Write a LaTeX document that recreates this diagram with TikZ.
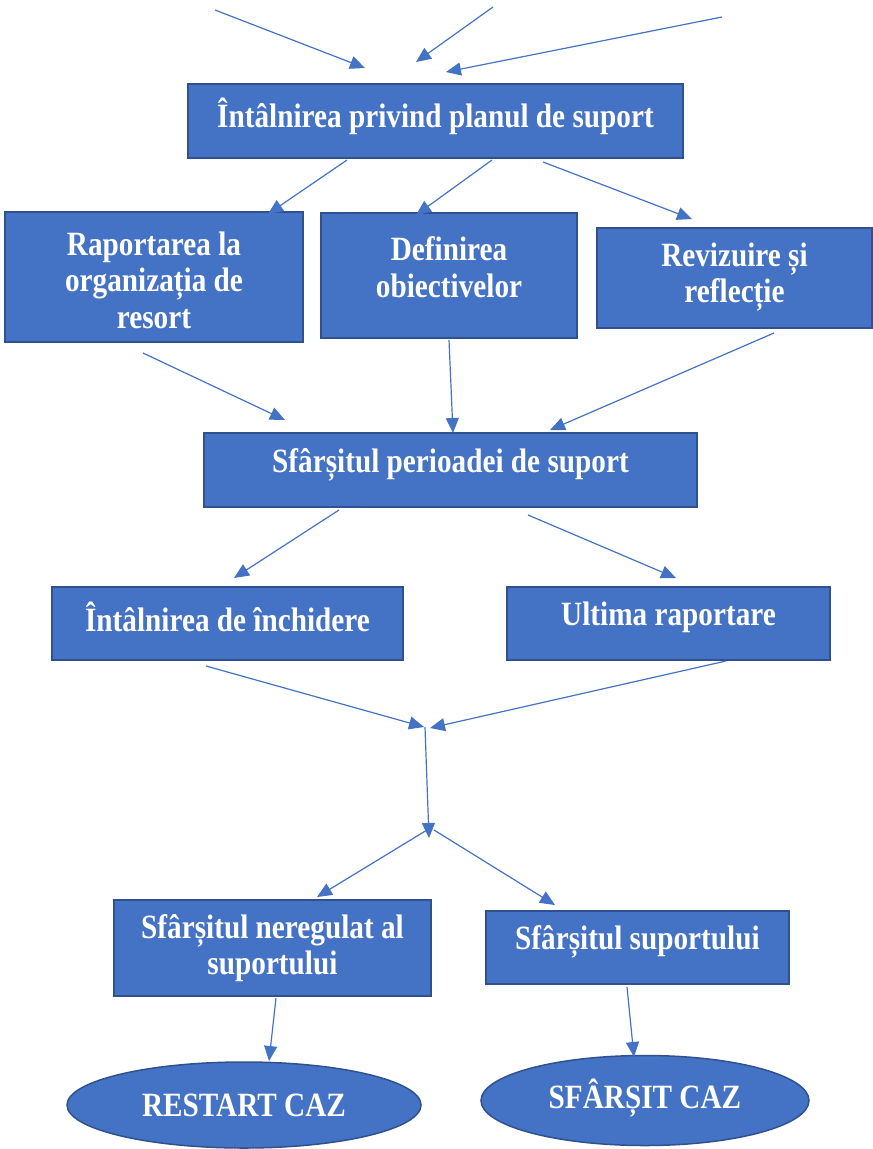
\documentclass[tikz,border=0pt]{standalone}
\usepackage{fontspec}
\setmainfont[FakeStretch=0.86]{Liberation Serif}
\usetikzlibrary{arrows.meta,shapes.geometric}
\definecolor{boxfill}{HTML}{4472C4}
\definecolor{boxline}{HTML}{2F528F}
\begin{document}
\begin{tikzpicture}[x=1pt,y=-1pt,
  box/.style={draw=boxline,fill=boxfill,line width=2pt,inner sep=0pt},
  oval/.style={ellipse,draw=boxline,fill=boxfill,line width=1.5pt,inner sep=0pt},
  txt/.style={text=white,font=\fontsize{34}{36.5}\selectfont\bfseries,align=center,inner sep=0pt},
  arr/.style={draw=boxfill,line width=1.2pt,-{Triangle[length=15pt,width=13pt]}}]
\fill[white] (0,0) rectangle (873,1149);
% boxes
\node[box,minimum width=495pt,minimum height=74pt] (b1) at (435.5,121) {};
\node[txt] (t1) at (435.5,116) {Întâlnirea privind planul de suport};
\node[box,minimum width=298pt,minimum height=130pt] (b2) at (154,277) {};
\node[txt] (t2) at (154,280) {Raportarea la\\organizația de\\resort};
\node[box,minimum width=256pt,minimum height=125pt] (b3) at (449,275.5) {};
\node[txt] (t3) at (449,267) {Definirea\\obiectivelor};
\node[box,minimum width=275pt,minimum height=100pt] (b4) at (734.5,278) {};
\node[txt] (t4) at (734.5,277) {Revizuire și\\reflecție};
\node[box,minimum width=493pt,minimum height=74pt] (b5) at (450.5,470) {};
\node[txt] (t5) at (450.5,465) {Sfârșitul perioadei de suport};
\node[box,minimum width=351pt,minimum height=73pt] (b6) at (227.5,623.5) {};
\node[txt] (t6) at (227.5,617) {Întâlnirea de închidere};
\node[box,minimum width=323pt,minimum height=73pt] (b7) at (668.5,623.5) {};
\node[txt] (t7) at (668.5,617) {Ultima raportare};
\node[box,minimum width=317pt,minimum height=96pt] (b8) at (272.5,948) {};
\node[txt] (t8) at (272.5,948) {Sfârșitul neregulat al\\suportului};
\node[box,minimum width=303pt,minimum height=73pt] (b9) at (637.5,947.5) {};
\node[txt] (t9) at (637.5,942) {Sfârșitul suportului};
\node[oval,minimum width=354pt,minimum height=86pt] (e1) at (244,1105) {};
\node[txt] (te1) at (244,1105) {RESTART CAZ};
\node[oval,minimum width=328pt,minimum height=90pt] (e2) at (645,1100.5) {};
\node[txt] (te2) at (645,1098) {SFÂRȘIT CAZ};
% free ends
\coordinate (s1) at (215,10);   \coordinate (e1a) at (365,68);
\coordinate (s2) at (493,7);    \coordinate (e2a) at (416,62);
\coordinate (s3) at (722,17);   \coordinate (e3a) at (446,72);
\coordinate (m1) at (425,727);
\coordinate (m2) at (429,838);
% arrows
\draw[arr] (s1) -- (e1a);
\draw[arr] (s2) -- (e2a);
\draw[arr] (s3) -- (e3a);
\draw[arr] (347,160) -- (268,214);
\draw[arr] (492,160) -- (416,215);
\draw[arr] (543,162) -- (692,219);
\draw[arr] (143,353) -- (285,420);
\draw[arr] (449,340) -- (453,433);
\draw[arr] (774,333) -- (550,430);
\draw[arr] (339,510) -- (234,578);
\draw[arr] (528,515) -- (676,578);
\draw[arr] (206,666) -- (424,727);
\draw[arr] (726,661) -- (430,728);
\draw[arr] (m1) -- (m2);
\draw[arr] (427,830) -- (317,897);
\draw[arr] (434,830) -- (555,905);
\draw[arr] (276,998) -- (269,1061);
\draw[arr] (627,987) -- (634,1057);
\end{tikzpicture}
\end{document}
